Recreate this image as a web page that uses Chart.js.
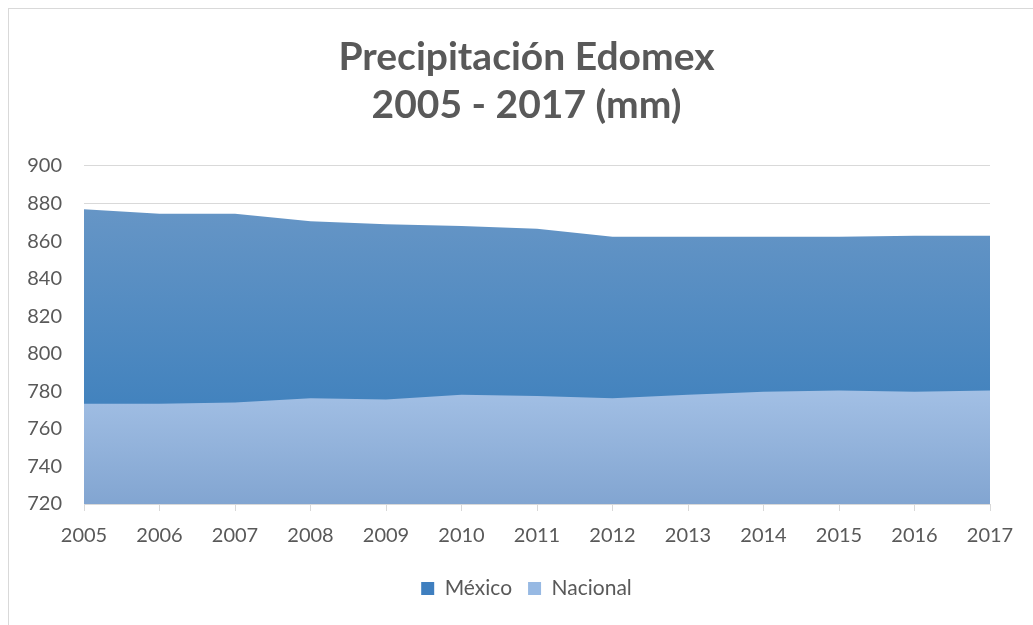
<!DOCTYPE html>
<html>
<head>
<meta charset="utf-8">
<script src="https://cdn.jsdelivr.net/npm/chart.js@4"></script>
<style>
  html, body { margin: 0; padding: 0; background: #fff; overflow: hidden; }
  #frame { position: absolute; left: 8px; top: 8px; width: 1100px; height: 700px;
           border-left: 1px solid #d9d9d9; border-top: 1px solid #d9d9d9; }
  #wrap { position: absolute; left: 0; top: 0; width: 1053px; height: 625px; }
</style>
</head>
<body>
<div id="frame"></div>
<div id="wrap"><canvas id="chart"></canvas></div>
<script>
// Precipitación anual (mm)
const years = ['2005', '2006', '2007', '2008', '2009', '2010', '2011', '2012', '2013', '2014', '2015', '2016', '2017']
const mexico = [877, 874.5, 874.5, 870.6, 868.9, 868, 866.5, 862.3, 862.3, 862.3, 862.3, 862.8, 862.8]
const nacional = [773.4, 773.4, 774.1, 776.3, 775.6, 778.2, 777.5, 776.3, 778.2, 779.8, 780.4, 779.8, 780.4]

const FONT = 'Lato, "Open Sans", sans-serif'
const GREY = '#595959'

// vertical gradient between two axis values
const grad = (top, bottom, cTop, cBottom) => ctx => {
  const chart = ctx.chart
  if (!chart.chartArea) return cBottom
  const y = chart.scales.y
  const g = chart.ctx.createLinearGradient(0, y.getPixelForValue(top), 0, y.getPixelForValue(bottom))
  g.addColorStop(0, cTop)
  g.addColorStop(1, cBottom)
  return g
}

new Chart(document.getElementById('chart'), {
  type: 'line',
  data: {
    labels: years,
    datasets: [
      {
        label: 'México',
        data: mexico,
        fill: 'start',
        order: 1,
        backgroundColor: grad(880, 775, '#6796c6', '#4383be'),
        borderWidth: 0,
        pointRadius: 0,
        tension: 0,
      },
      {
        label: 'Nacional',
        data: nacional,
        fill: 'start',
        order: 0,
        backgroundColor: grad(782, 720, '#a3c0e5', '#82a5d1'),
        borderWidth: 0,
        pointRadius: 0,
        tension: 0,
      },
    ],
  },
  options: {
    responsive: true,
    maintainAspectRatio: false,
    animation: false,
    layout: { padding: { left: 0, right: 0, top: 21, bottom: 16 } },
    scales: {
      x: {
        offset: false,
        afterFit: s => { s.height += 1 },
        grid: { drawOnChartArea: false, drawTicks: true, tickLength: 7, color: '#d9d9d9' },
        border: { display: true, color: '#d9d9d9' },
        ticks: { color: GREY, font: { family: FONT, size: 20 }, padding: 13, maxRotation: 0 },
      },
      y: {
        min: 720, max: 900,
        afterFit: s => { s.width = 84 },
        grid: { color: '#d9d9d9', drawTicks: false },
        border: { display: false },
        ticks: { stepSize: 20, color: GREY, font: { family: FONT, size: 20 }, padding: 22 },
      },
      // empty right-hand spacer: the chart frame runs past the visible edge
      pad: {
        position: 'right',
        afterFit: s => { s.width = 63 },
        grid: { display: false },
        border: { display: false },
        ticks: { display: false },
      },
    },
    plugins: {
      title: {
        display: true,
        text: ['Precipitación Edomex', '2005 - 2017 (mm)'],
        color: GREY,
        font: { family: FONT, size: 39, weight: 'bold', lineHeight: 1.23 },
        padding: { top: 12, bottom: 37 },
      },
      legend: {
        position: 'bottom',
        labels: {
          color: GREY,
          font: { family: FONT, size: 21 },
          boxWidth: 13, boxHeight: 13,
          padding: 16,
          generateLabels: chart => chart.data.datasets.map((d, i) => ({
            text: d.label,
            fillStyle: i === 0 ? '#3f7fbf' : '#97b9e3',
            strokeStyle: 'transparent',
            lineWidth: 0,
            fontColor: GREY,
            datasetIndex: i,
          })),
        },
      },
      tooltip: { enabled: false },
    },
  },
})
</script>
</body>
</html>
